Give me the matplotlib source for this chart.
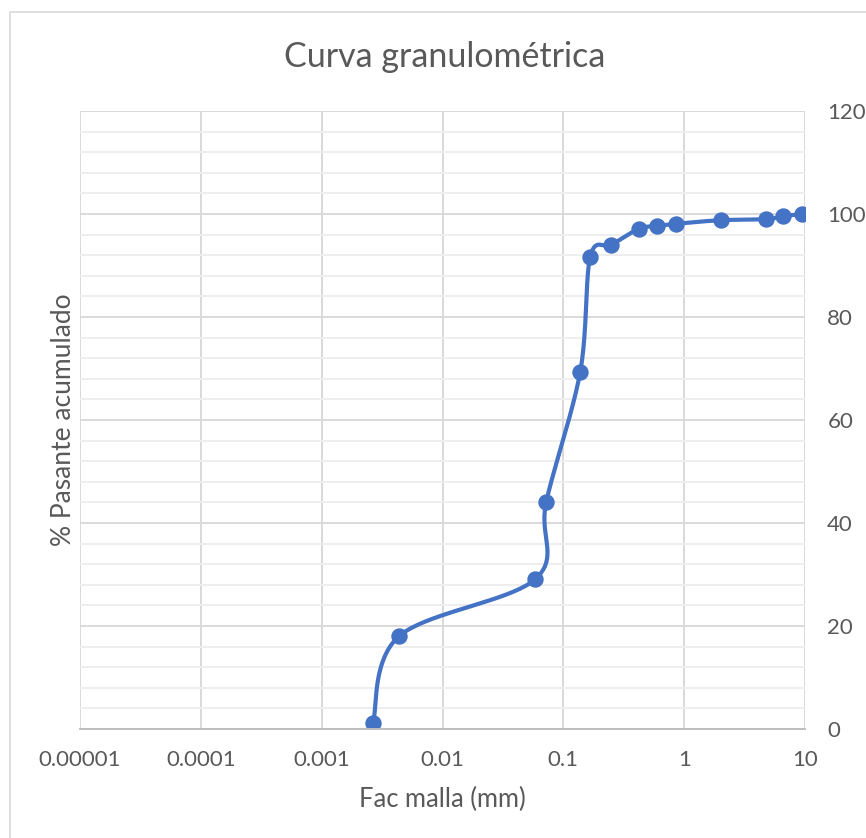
import numpy as np
from matplotlib import pyplot as plt
from matplotlib.ticker import FixedLocator, MultipleLocator, NullFormatter
from matplotlib.patches import Rectangle

plt.rcParams['font.family'] = ['Lato', 'DejaVu Sans']

# abertura de malla (mm) y % pasante acumulado
malla = [0.00266, 0.00436, 0.0585, 0.072, 0.138, 0.167, 0.25, 0.42,
         0.60, 0.85, 2.0, 4.75, 6.6, 9.5]
pasante = [1.2, 18.0, 29.1, 44.0, 69.4, 91.7, 94.0, 97.1,
           97.7, 98.1, 98.8, 99.0, 99.6, 100.0]

decadas = [1e-5, 1e-4, 1e-3, 1e-2, 1e-1, 1, 10]
etiquetas = ['0.00001', '0.0001', '0.001', '0.01', '0.1', '1', '10']

azul = '#4472C4'
gris = '#595959'


def suavizar(x, y, n=40):
    # curva suavizada tipo Catmull-Rom (bezier cubica por tramos)
    px = np.log10(np.asarray(x, float))
    py = np.asarray(y, float)
    P = np.column_stack([px, py])
    P = np.vstack([P[0], P, P[-1]])
    out = []
    t = np.linspace(0, 1, n)[:, None]
    for i in range(1, len(P) - 2):
        p0, p1, p2, p3 = P[i - 1], P[i], P[i + 1], P[i + 2]
        c1 = p1 + (p2 - p0) / 6
        c2 = p2 - (p3 - p1) / 6
        seg = ((1 - t) ** 3 * p1 + 3 * (1 - t) ** 2 * t * c1
               + 3 * (1 - t) * t ** 2 * c2 + t ** 3 * p2)
        out.append(seg)
    out = np.vstack(out)
    return 10 ** out[:, 0], out[:, 1]


fig = plt.figure(figsize=(8.66, 8.38), dpi=100)
ax = fig.add_axes([0.0924, 0.1301, 0.8372, 0.7374])

# borde del grafico
fig.patches.append(Rectangle((10 / 866, -0.1), 2, 1.1 - 12 / 838,
                             transform=fig.transFigure, fill=False,
                             edgecolor='#d9d9d9', linewidth=1.2))

ax.set_xscale('log')
ax.set_xlim(1e-5, 10)
ax.set_ylim(0, 120)

ax.xaxis.set_major_locator(FixedLocator(decadas))
ax.xaxis.set_minor_locator(FixedLocator([]))
ax.set_xticklabels(etiquetas)
ax.xaxis.set_minor_formatter(NullFormatter())
ax.yaxis.set_major_locator(MultipleLocator(20))
ax.yaxis.set_minor_locator(MultipleLocator(4))

ax.grid(which='major', color='#d9d9d9', linewidth=1.4)
ax.grid(which='minor', axis='y', color='#eeeeee', linewidth=1.4)
ax.set_axisbelow(True)

for s in ['top', 'left', 'right']:
    ax.spines[s].set_visible(False)
ax.spines['bottom'].set_color('#bfbfbf')
ax.spines['bottom'].set_linewidth(1.4)

ax.yaxis.tick_right()
ax.tick_params(which='both', length=0)
ax.tick_params(axis='y', pad=16, labelsize=16, labelcolor=gris)
ax.tick_params(axis='x', pad=15, labelsize=16, labelcolor=gris)

xs, ys = suavizar(malla, pasante)
ax.plot(xs, ys, color=azul, linewidth=3.0, solid_capstyle='round')
ax.plot(malla, pasante, 'o', color=azul, markersize=10.8)

fig.text(445 / 866, 1 - 57 / 838, 'Curva granulométrica', fontsize=24.5,
         color=gris, ha='center', va='center')
ax.set_xlabel('Fac malla (mm)', fontsize=18.4, color=gris)
ax.set_ylabel('% Pasante acumulado', fontsize=19, color=gris)
ax.yaxis.set_label_position('left')
ax.xaxis.label.set_va('center')
ax.yaxis.label.set_va('center')
ax.xaxis.set_label_coords(0.5, (729 - 800) / 619)
ax.yaxis.set_label_coords((63 - 80) / 725, 0.5)

fig.savefig('out.png', dpi=100)
